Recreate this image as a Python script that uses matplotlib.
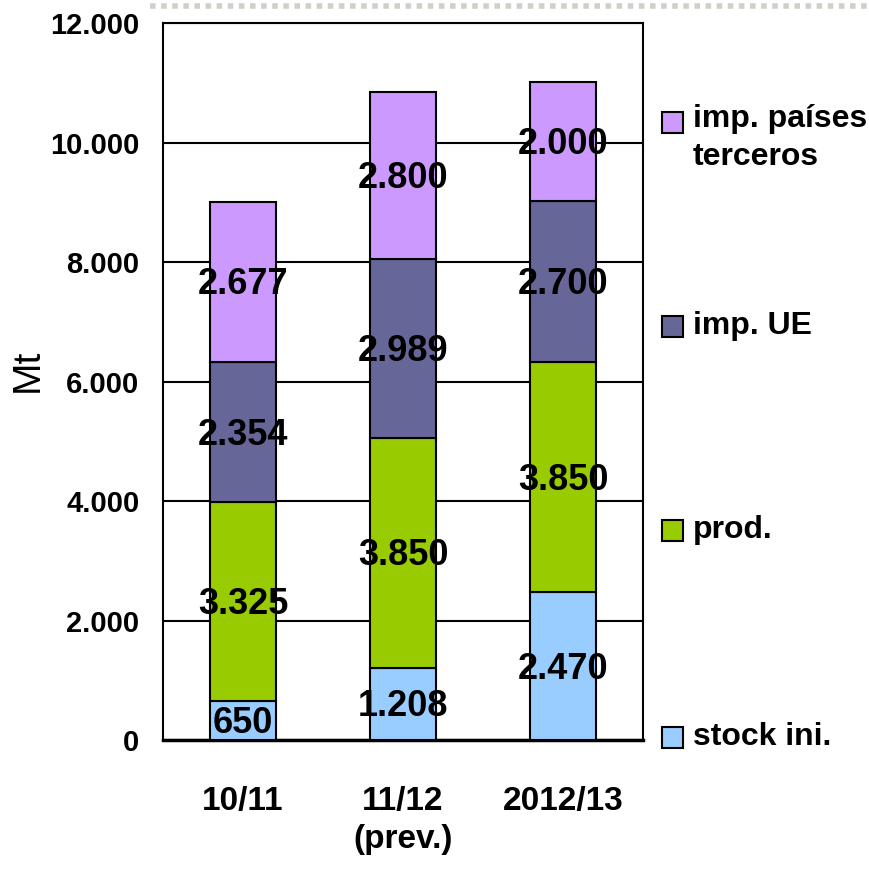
import matplotlib
matplotlib.use("Agg")
import matplotlib.pyplot as plt
from matplotlib.patches import Rectangle
from matplotlib.lines import Line2D
import numpy as np

plt.rcParams['font.family'] = ['Liberation Sans', 'DejaVu Sans']

categories = ["10/11", "11/12\n(prev.)", "2012/13"]
series_names = ["stock ini.", "prod.", "imp. UE", "imp. países\nterceros"]
stock_ini = [650, 1208, 2470]
prod = [3325, 3850, 3850]
imp_ue = [2354, 2989, 2700]
imp_terceros = [2677, 2800, 2000]
label_texts = [["650", "1.208", "2.470"],
               ["3.325", "3.850", "3.850"],
               ["2.354", "2.989", "2.700"],
               ["2.677", "2.800", "2.000"]]
yticks = [0, 2000, 4000, 6000, 8000, 10000, 12000]
ytick_labels = ["0", "2.000", "4.000", "6.000", "8.000", "10.000", "12.000"]
colors = ["#99CCFF", "#99CC00", "#666699", "#CC99FF"]

W, H = 870, 869
fig = plt.figure(figsize=(W/100, H/100), dpi=100)
ax = fig.add_axes([163/W, 1-740/H, (643-163)/W, (740-23)/H])

x = np.arange(len(categories))
bottom = np.zeros(len(categories))
series = [stock_ini, prod, imp_ue, imp_terceros]
for vals, col, labs in zip(series, colors, label_texts):
    vals = np.array(vals, dtype=float)
    ax.bar(x, vals, width=0.41, bottom=bottom, color=col, edgecolor='black',
           linewidth=1.5, zorder=3)
    for xi, b, v, t in zip(x, bottom, vals, labs):
        ax.text(xi, b + v/2 - 50, t, ha='center', va='center', fontsize=26,
                fontweight='bold', color='black', zorder=5)
    bottom += vals

ax.set_xlim(-0.5, 2.5)
ax.set_ylim(0, 12000)
ax.set_yticks(yticks)
ax.set_yticklabels(ytick_labels, fontsize=21, fontweight='bold')
ax.set_xticks(x)
ax.set_xticklabels(categories, fontsize=24, fontweight='bold', linespacing=1.3)
ax.tick_params(axis='both', length=0)
ax.tick_params(axis='y', pad=17)
ax.tick_params(axis='x', pad=33)
ax.yaxis.grid(True, color='black', linewidth=1.5, zorder=0)
ax.set_axisbelow(True)
for s in ax.spines.values():
    s.set_linewidth(1.5)
    s.set_color('black')
ax.spines['bottom'].set_linewidth(2.5)
ax.set_ylabel("Mt", fontsize=28)
ax.yaxis.set_label_coords(-(163-46)/480, 0.515)

# legend drawn manually on right side
leg_y = [737, 530, 326, 122]
for name, col, yy in zip(series_names, colors, leg_y):
    fig.patches.append(Rectangle((662/W, 1-(yy+11)/H), 21/W, 21/H,
                                 transform=fig.transFigure, facecolor=col,
                                 edgecolor='black', linewidth=1.5))
    if '\n' in name:
        fig.text(693/W, 1-(yy-18)/H, name, ha='left', va='top',
                 fontsize=23, fontweight='bold', linespacing=1.35)
    else:
        fig.text(693/W, 1-yy/H, name, ha='left', va='center',
                 fontsize=23, fontweight='bold')

# decorative dotted band at top
fig.add_artist(Line2D([150/W, 1.0], [1-6/H, 1-6/H], transform=fig.transFigure,
                      color='#d0d0c8', linewidth=4, linestyle=(0, (1, 1))))

fig.savefig("out.png", dpi=100)
